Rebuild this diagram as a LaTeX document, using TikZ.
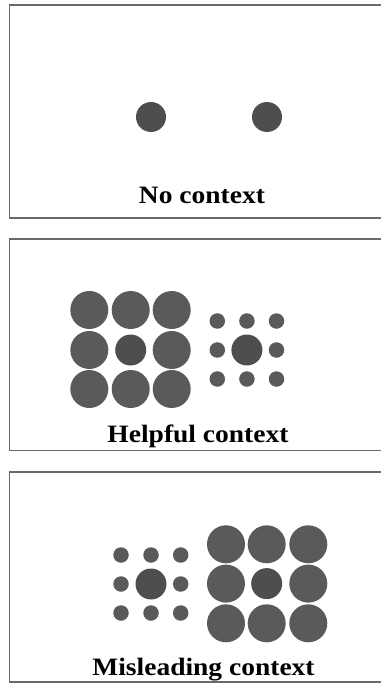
\documentclass[tikz,border=0pt]{standalone}
\usepackage{fontspec}
\setmainfont{Liberation Serif}
\definecolor{dotgray}{HTML}{5A5A5A}
\definecolor{centergray}{HTML}{4E4E4E}
\definecolor{framegray}{HTML}{6A6A6A}
\tikzset{
  panel/.style={draw=framegray, line width=1.6pt},
  bigdot/.style={circle, fill=dotgray, inner sep=0pt, minimum size=38pt},
  smalldot/.style={circle, fill=dotgray, inner sep=0pt, minimum size=15.5pt},
  centerdot/.style={circle, fill=centergray, inner sep=0pt, minimum size=31pt},
  caption/.style={anchor=base, inner sep=0pt, font=\fontsize{25}{30}\selectfont\bfseries}
}
\begin{document}
\begin{tikzpicture}[x=1pt, y=-1pt]
\useasboundingbox (0,0) rectangle (380,685);
\fill[white] (0,0) rectangle (380,685);
% panels
\draw[panel] (390,5) -- (9.5,5) -- (9.5,217.7) -- (390,217.7);
\draw[panel] (390,239) -- (9.5,239) -- (9.5,450.5) -- (390,450.5);
\draw[panel] (390,472) -- (9.5,472) -- (9.5,682) -- (390,682);
% panel 1
\node[centerdot, minimum size=30pt] (n1) at (151,117) {};
\node[centerdot, minimum size=30pt] (n2) at (267,117) {};
\node[caption] (cap1) at (202,203) {\scalebox{1.1}[1]{No context}};
% panel 2: large grid
\foreach \i/\x in {1/89.3,2/130.7,3/171.7}{
  \foreach \j/\y in {1/310,2/350,3/389}{
    \ifnum\i=2 \ifnum\j=2 \else
      \node[bigdot] (hb-\i-\j) at (\x,\y) {};
    \fi \else
      \node[bigdot] (hb-\i-\j) at (\x,\y) {};
    \fi
  }
}
\node[centerdot] (hb-2-2) at (130.7,350) {};
% panel 2: small grid
\foreach \i/\x in {1/217.3,2/246.9,3/276.5}{
  \foreach \j/\y in {1/321,2/350,3/379}{
    \ifnum\i=2 \ifnum\j=2 \else
      \node[smalldot] (hs-\i-\j) at (\x,\y) {};
    \fi \else
      \node[smalldot] (hs-\i-\j) at (\x,\y) {};
    \fi
  }
}
\node[centerdot] (hs-2-2) at (246.9,350) {};
\node[caption] (cap2) at (198,442.3) {\scalebox{1.1}[1]{Helpful context}};
% panel 3: small grid
\foreach \i/\x in {1/121,2/151,3/180.7}{
  \foreach \j/\y in {1/555,2/584,3/613}{
    \ifnum\i=2 \ifnum\j=2 \else
      \node[smalldot] (ms-\i-\j) at (\x,\y) {};
    \fi \else
      \node[smalldot] (ms-\i-\j) at (\x,\y) {};
    \fi
  }
}
\node[centerdot] (ms-2-2) at (151,584) {};
% panel 3: large grid
\foreach \i/\x in {1/226,2/266.7,3/308.3}{
  \foreach \j/\y in {1/544.3,2/583.6,3/623.3}{
    \ifnum\i=2 \ifnum\j=2 \else
      \node[bigdot] (mb-\i-\j) at (\x,\y) {};
    \fi \else
      \node[bigdot] (mb-\i-\j) at (\x,\y) {};
    \fi
  }
}
\node[centerdot] (mb-2-2) at (266.7,583.6) {};
\node[caption] (cap3) at (203.5,675) {\scalebox{1.1}[1]{Misleading context}};
\end{tikzpicture}
\end{document}
